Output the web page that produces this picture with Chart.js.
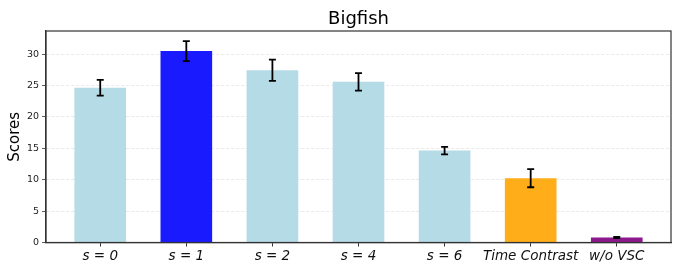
<!DOCTYPE html>
<html>
<head>
<meta charset="utf-8">
<script src="https://cdn.jsdelivr.net/npm/chart.js@4.4.1/dist/chart.umd.min.js"></script>
<style>
  html, body { margin: 0; padding: 0; background: #fff; }
  #wrap { width: 681px; height: 273px; }
</style>
</head>
<body>
<div id="wrap"><canvas id="myChart" width="681" height="273"></canvas></div>
<script>
// Chart values
var categories = ['s = 0', 's = 1', 's = 2', 's = 4', 's = 6', 'Time Contrast', 'w/o VSC'];
var scores = [24.65, 30.5, 27.45, 25.6, 14.65, 10.25, 0.8];
var errors = [1.25, 1.6, 1.7, 1.4, 0.6, 1.45, 0.1];
var barColors = ['#b5dbe7', '#1a1aff', '#b5dbe7', '#b5dbe7', '#b5dbe7', '#ffae19', '#8c198c'];
var yTicks = [0, 5, 10, 15, 20, 25, 30];
var chartTitle = 'Bigfish';

// error bars drawn through the chart's own scales
var errorBarPlugin = {
  id: 'errorBars',
  afterDatasetsDraw: function(chart) {
    var ctx = chart.ctx;
    var xs = chart.scales.x, ys = chart.scales.y;
    ctx.save();
    ctx.strokeStyle = '#000';
    ctx.lineWidth = 1.8;
    for (var i = 0; i < scores.length; i++) {
      var x = xs.getPixelForValue(i);
      var top = ys.getPixelForValue(scores[i] + errors[i]);
      var bot = ys.getPixelForValue(scores[i] - errors[i]);
      ctx.beginPath();
      ctx.moveTo(x, top); ctx.lineTo(x, bot);
      ctx.moveTo(x - 3.5, top); ctx.lineTo(x + 3.5, top);
      ctx.moveTo(x - 3.5, bot); ctx.lineTo(x + 3.5, bot);
      ctx.stroke();
    }
    ctx.restore();
  }
};

// frame around the plot area (matplotlib spines) + title centred over the axes
var framePlugin = {
  id: 'frame',
  afterDraw: function(chart) {
    var a = chart.chartArea, ctx = chart.ctx;
    ctx.save();
    ctx.strokeStyle = '#333';
    ctx.lineWidth = 1.2;
    ctx.strokeRect(a.left, a.top, a.right - a.left, a.bottom - a.top);
    ctx.fillStyle = '#000';
    ctx.font = '18px "DejaVu Sans"';
    ctx.textAlign = 'center';
    ctx.textBaseline = 'middle';
    ctx.fillText(chartTitle, (a.left + a.right) / 2, 19);
    ctx.restore();
  }
};

var ctx = document.getElementById('myChart');
var myChart = new Chart(ctx, {
  type: 'bar',
  data: {
    datasets: [{
      data: scores.map(function(v, i) { return { x: i, y: v }; }),
      backgroundColor: barColors,
      borderWidth: 0,
      barPercentage: 0.6,
      categoryPercentage: 1.0
    }]
  },
  options: {
    responsive: false,
    animation: false,
    layout: { padding: { left: 0, right: 10, top: 31, bottom: 0 } },
    plugins: {
      legend: { display: false },
      tooltip: { enabled: false },
      title: { display: false }
    },
    scales: {
      x: {
        type: 'linear',
        offset: false,
        min: -0.63,
        max: 6.63,
        afterBuildTicks: function(axis) {
          axis.ticks = categories.map(function(c, i) { return { value: i }; });
        },
        afterFit: function(scale) { scale.height = 30.5; },
        ticks: {
          autoSkip: false,
          maxRotation: 0,
          padding: 2,
          color: '#111',
          font: { family: 'DejaVu Sans', size: 13.5, style: 'italic' },
          callback: function(v) { return categories[v]; }
        },
        grid: { display: true, offset: false, drawOnChartArea: false, tickLength: 4, tickColor: '#333' },
        border: { display: true, color: '#333', width: 1.2 }
      },
      y: {
        min: 0,
        max: 33.7,
        afterBuildTicks: function(axis) {
          axis.ticks = yTicks.map(function(v) { return { value: v }; });
        },
        afterFit: function(scale) { scale.width = 46; },
        title: {
          display: true,
          text: 'Scores',
          color: '#000',
          font: { family: 'DejaVu Sans', size: 15 },
          padding: { top: 6, bottom: 4 }
        },
        ticks: {
          padding: 3,
          color: '#222',
          font: { family: 'DejaVu Sans', size: 9.5 }
        },
        grid: { color: '#e3e3e3', lineWidth: 0.8, tickLength: 4, tickColor: '#333', tickBorderDash: [] },
        border: { display: true, color: '#333', width: 1.2, dash: [3, 2] }
      }
    }
  },
  plugins: [errorBarPlugin, framePlugin]
});
</script>
</body>
</html>
